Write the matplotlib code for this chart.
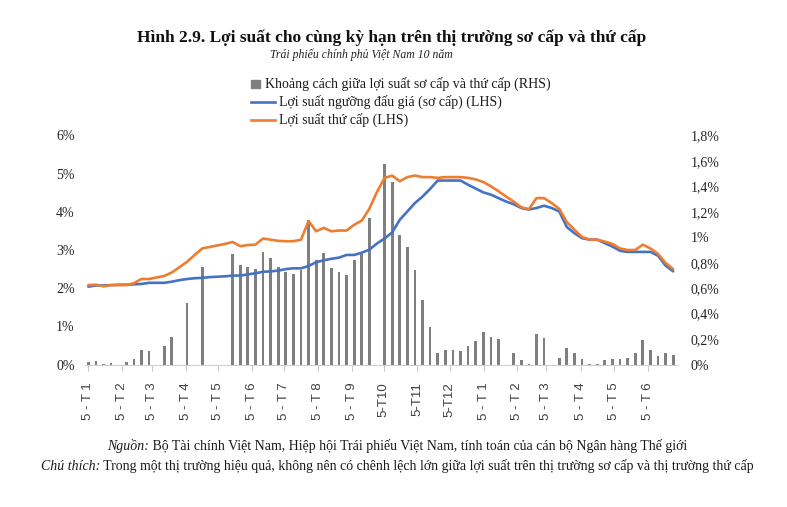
import numpy as np
import matplotlib
matplotlib.use('Agg')
import matplotlib.pyplot as plt
from matplotlib.lines import Line2D
from matplotlib.patches import Rectangle

SERIF = ['Liberation Serif', 'DejaVu Serif']
SANS = ['Liberation Sans', 'DejaVu Sans']

# weekly observations, % (gap on the right axis, yields on the left axis)
gap_rhs = [0.021, 0.029, 0.005, 0.008, np.nan, 0.016, 0.047, 0.115, 0.105, np.nan,
           0.144, 0.22, np.nan, 0.48, np.nan, 0.77, np.nan, np.nan, np.nan, 0.865,
           0.78, 0.77, 0.75, 0.886, 0.84, 0.77, 0.73, 0.71, 0.74, 1.135,
           0.825, 0.875, 0.76, 0.73, 0.70, 0.825, 0.865, 1.153, np.nan, 1.578,
           1.433, 1.02, 0.925, 0.74, 0.51, 0.296, 0.094, 0.115, 0.112, 0.105,
           0.142, 0.181, 0.257, 0.217, 0.199, np.nan, 0.094, 0.037, 0.005, 0.241,
           0.21, np.nan, 0.055, 0.131, 0.094, 0.047, 0.003, 0.005, 0.034, 0.045,
           0.045, 0.055, 0.087, 0.189, 0.115, 0.066, 0.087, 0.076]

primary = [2.04, 2.07, 2.07, 2.08, 2.09, 2.09, 2.10, 2.11, 2.14, 2.14,
           2.14, 2.17, 2.21, 2.24, 2.26, 2.27, 2.29, 2.30, 2.31, 2.33,
           2.33, 2.36, 2.39, 2.43, 2.44, 2.46, 2.50, 2.52, 2.52, 2.58,
           2.68, 2.73, 2.77, 2.80, 2.87, 2.87, 2.93, 3.01, 3.17, 3.30,
           3.46, 3.79, 4.01, 4.23, 4.40, 4.60, 4.82, 4.82, 4.82, 4.82,
           4.71, 4.61, 4.51, 4.45, 4.36, 4.27, 4.20, 4.10, 4.06, 4.10,
           4.16, 4.10, 4.01, 3.60, 3.44, 3.31, 3.27, 3.27, 3.18, 3.09,
           2.98, 2.95, 2.95, 2.95, 2.95, 2.85, 2.59, 2.44]

secondary = [2.08, 2.09, 2.05, 2.08, 2.08, 2.08, 2.13, 2.24, 2.24, 2.28,
             2.32, 2.41, 2.55, 2.69, 2.87, 3.04, 3.08, 3.12, 3.16, 3.21,
             3.10, 3.13, 3.14, 3.30, 3.27, 3.24, 3.23, 3.23, 3.27, 3.76,
             3.49, 3.58, 3.49, 3.51, 3.51, 3.66, 3.77, 4.08, 4.52, 4.89,
             4.95, 4.80, 4.91, 4.95, 4.91, 4.91, 4.89, 4.91, 4.91, 4.91,
             4.89, 4.85, 4.78, 4.67, 4.54, 4.40, 4.27, 4.12, 4.07, 4.36,
             4.36, 4.23, 4.08, 3.73, 3.53, 3.34, 3.27, 3.27, 3.22, 3.16,
             3.04, 3.00, 3.00, 3.14, 3.04, 2.90, 2.66, 2.50]

month_labels = ['5 - T 1', '5 - T 2', '5 - T 3', '5 - T 4', '5 - T 5', '5 - T 6',
                '5 - T 7', '5 - T 8', '5 - T 9', '5-T10', '5-T11', '5-T12',
                '5 - T 1', '5 - T 2', '5 - T 3', '5 - T 4', '5 - T 5', '5 - T 6']

left_ticks = [0, 1, 2, 3, 4, 5, 6]
right_ticks = [0, 0.2, 0.4, 0.6, 0.8, 1.0, 1.2, 1.4, 1.6, 1.8]

# month start positions on the weekly index
month_pos = [0, 4.4, 8.35, 12.85, 17.1, 21.5, 25.8, 30.2, 34.7, 38.9,
             43.3, 47.6, 52.1, 56.4, 60.3, 64.9, 69.2, 73.7]

BAR_C = '#7f7f7f'
BLUE = '#4472c4'
ORANGE = '#ed7d31'

W, H = 787, 507


def pct(v):
    s = f'{v:.1f}'.rstrip('0').rstrip('.')
    return s.replace('.', ',') + '%'


def mixed_line(fig, y, parts, cx, size=10):
    """Draw a line of text made of (string, style) parts centred at cx (figure px)."""
    r = fig.canvas.get_renderer()
    objs = []
    for s, style in parts:
        t = fig.text(0, 1 - y / H, s, fontsize=size, style=style, family=SERIF,
                     color='#1a1a1a', va='center', ha='left')
        objs.append(t)
    widths = [t.get_window_extent(renderer=r).width for t in objs]
    x = cx - sum(widths) / 2
    for t, w in zip(objs, widths):
        t.set_x(x / W)
        x += w


x = np.arange(len(primary))

fig = plt.figure(figsize=(W / 100, H / 100), dpi=100)
ax = fig.add_axes([84.5 / W, 1 - 364.5 / H, (677 - 84.5) / W, (364.5 - 135.5) / H])
ax2 = ax.twinx()

ax2.bar(x, gap_rhs, width=0.36, color=BAR_C, zorder=1)
ax.plot(x, primary, color=BLUE, lw=1.9, solid_capstyle='round')
ax.plot(x, secondary, color=ORANGE, lw=1.9, solid_capstyle='round')
ax.set_zorder(ax2.get_zorder() + 1)
ax.patch.set_visible(False)

ax.set_xlim(-0.5, len(primary) - 0.5)
ax.set_ylim(0, 6)
ax2.set_ylim(0, 1.8)

for a in (ax, ax2):
    for side in ('top', 'left', 'right', 'bottom'):
        a.spines[side].set_visible(False)
ax.spines['bottom'].set_visible(True)
ax.spines['bottom'].set_color('#d0d0d0')

ax.set_yticks(left_ticks)
ax.set_yticklabels([f'{v}%' for v in left_ticks], family=SERIF, fontsize=10, color='#262626')
ax.tick_params(axis='y', length=0, pad=7)
ax2.set_yticks(right_ticks)
ax2.set_yticklabels([pct(v) for v in right_ticks], family=SERIF, fontsize=10, color='#262626')
ax2.tick_params(axis='y', length=0, pad=10)

ax.set_xticks(month_pos)
ax.set_xticklabels(month_labels, rotation=90, family=SANS, fontsize=9.5, color='#404040')
ax.tick_params(axis='x', length=4, color='#c8c8c8', pad=9)

# titles
fig.text(392 / W, 1 - 38 / H, 'Hình 2.9. Lợi suất cho cùng kỳ hạn trên thị trường sơ cấp và thứ cấp',
         family=SERIF, fontsize=12.5, fontweight='bold', ha='center', va='center', color='#111111')
fig.text(361 / W, 1 - 55 / H, 'Trái phiếu chính phủ Việt Nam 10 năm',
         family=SERIF, fontsize=8.5, style='italic', ha='center', va='center', color='#222222')

# legend (drawn by hand to keep the Excel-like layout)
leg_rows = [('Khoảng cách giữa lợi suất sơ cấp và thứ cấp (RHS)', 'bar', 84),
            ('Lợi suất ngưỡng đấu giá (sơ cấp) (LHS)', BLUE, 102),
            ('Lợi suất thứ cấp (LHS)', ORANGE, 120)]
for label, kind, yy in leg_rows:
    if kind == 'bar':
        fig.patches.append(Rectangle((251 / W, 1 - (yy + 4) / H), 9 / W, 8 / H,
                                     transform=fig.transFigure, color=BAR_C))
        fig.text(265 / W, 1 - yy / H, label, family=SERIF, fontsize=10,
                 va='center', ha='left', color='#1a1a1a')
    else:
        fig.add_artist(Line2D([251 / W, 275 / W], [1 - yy / H, 1 - yy / H],
                              transform=fig.transFigure, color=kind, lw=1.9))
        fig.text(279 / W, 1 - yy / H, label, family=SERIF, fontsize=10,
                 va='center', ha='left', color='#1a1a1a')

# footer notes
mixed_line(fig, 446, [('Nguồn:', 'italic'),
                      (' Bộ Tài chính Việt Nam, Hiệp hội Trái phiếu Việt Nam, tính toán của cán bộ Ngân hàng Thế giới', 'normal')],
           397)
mixed_line(fig, 466, [('Chú thích:', 'italic'),
                      (' Trong một thị trường hiệu quả, không nên có chênh lệch lớn giữa lợi suất trên thị trường sơ cấp và thị trường thứ cấp', 'normal')],
           397)

fig.savefig('out.png', dpi=100)
